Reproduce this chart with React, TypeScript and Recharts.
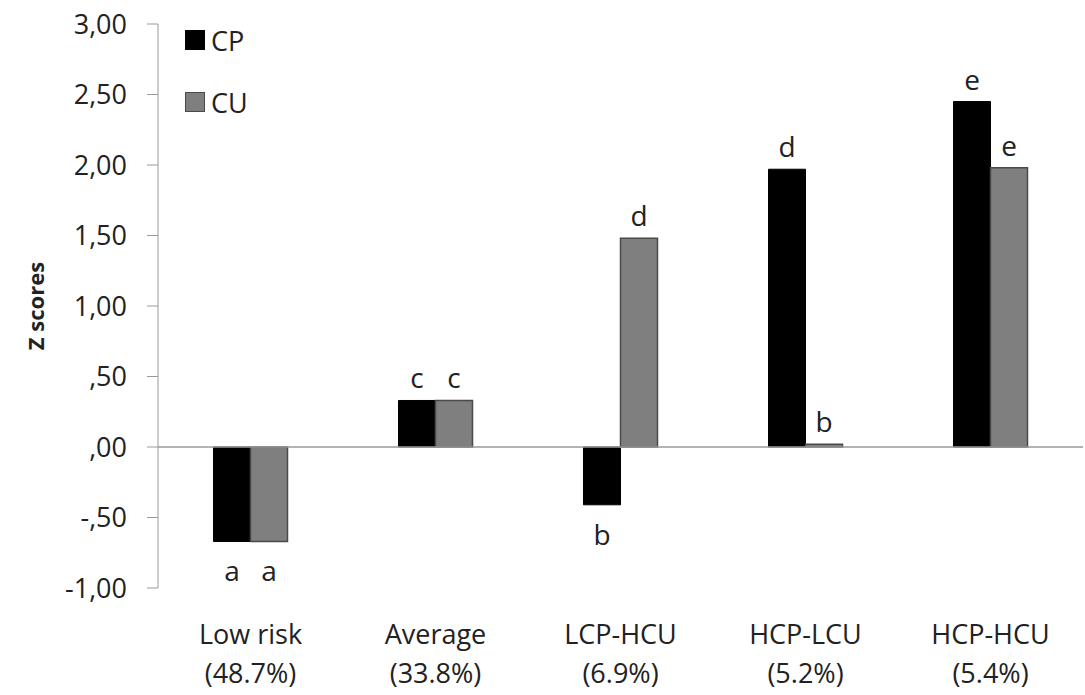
import React from 'react';
import { BarChart, Bar, XAxis, YAxis, ReferenceLine, LabelList } from 'recharts';

const categories = ['Low risk', 'Average', 'LCP-HCU', 'HCP-LCU', 'HCP-HCU'];
const shares = ['(48.7%)', '(33.8%)', '(6.9%)', '(5.2%)', '(5.4%)'];
const cpValues = [-0.67, 0.33, -0.41, 1.97, 2.45];
const cuValues = [-0.67, 0.33, 1.48, 0.02, 1.98];
const cpLetters = ['a', 'c', 'b', 'd', 'e'];
const cuLetters = ['a', 'c', 'd', 'b', 'e'];
const yTicks = [-1, -0.5, 0, 0.5, 1, 1.5, 2, 2.5, 3];
const yTickLabels = ['-1,00', '-,50', ',00', ',50', '1,00', '1,50', '2,00', '2,50', '3,00'];

const FONT = '"Open Sans", sans-serif';

const data = categories.map((name, i) => ({
  name,
  share: shares[i],
  CP: cpValues[i],
  CU: cuValues[i],
  cpLetter: cpLetters[i],
  cuLetter: cuLetters[i],
}));

// letter above positive bars, below negative ones
const letterLabel = (values: number[]) => (props: any) => {
  const { x, y, width, height, value, index } = props;
  const top = Math.min(y, y + height);
  const bottom = Math.max(y, y + height);
  const neg = values[index] < 0;
  return (
    <text
      x={x + width / 2}
      y={neg ? bottom + 40 : top - 12}
      textAnchor="middle"
      fontSize={28}
      fontFamily={FONT}
      fill="#222"
    >
      {value}
    </text>
  );
};

const CategoryTick = (props: any) => {
  const { x, y, payload, index } = props;
  return (
    <text x={x} textAnchor="middle" fontSize={27} fontFamily={FONT} fill="#222">
      <tspan x={x} y={y + 48}>{payload.value}</tspan>
      <tspan x={x} y={y + 87}>{shares[index]}</tspan>
    </text>
  );
};

const legendItems = [
  { label: 'CP', fill: '#000', stroke: '#000' },
  { label: 'CU', fill: '#7f7f7f', stroke: '#4a4a4a' },
];

export default function App() {
  return (
    <div style={{ position: 'absolute', left: 0, top: 0, width: 1085, height: 695, background: '#fff' }}>
      <BarChart
        width={1085}
        height={695}
        data={data}
        margin={{ top: 24, right: 2, left: 0, bottom: 7 }}
        barCategoryGap="30%"
        barGap={0}
      >
        <XAxis
          dataKey="name"
          axisLine={false}
          tickLine={false}
          height={100}
          tick={<CategoryTick />}
          interval={0}
        />
        <YAxis
          domain={[-1, 3]}
          ticks={yTicks}
          tickFormatter={(v: number) => yTickLabels[yTicks.indexOf(v)]}
          width={158}
          stroke="#9a9a9a"
          tickSize={11}
          tickMargin={20}
          tick={{ fontSize: 27, fontFamily: FONT, fill: '#222' }}
          interval={0}
          label={{
            content: () => (
              <text
                x={44}
                y={306}
                transform="rotate(-90 44 306)"
                textAnchor="middle"
                fontSize={22}
                fontWeight="bold"
                fontFamily={FONT}
                fill="#222"
              >
                Z scores
              </text>
            ),
          }}
        />
        <ReferenceLine y={0} stroke="#9a9a9a" strokeWidth={1.5} />
        <Bar dataKey="CP" fill="#000" stroke="#000" isAnimationActive={false}>
          <LabelList dataKey="cpLetter" content={letterLabel(cpValues)} />
        </Bar>
        <Bar dataKey="CU" fill="#7f7f7f" stroke="#4a4a4a" strokeWidth={1.5} isAnimationActive={false}>
          <LabelList dataKey="cuLetter" content={letterLabel(cuValues)} />
        </Bar>
      </BarChart>
      <div style={{ position: 'absolute', left: 185, top: 20, fontFamily: FONT, fontSize: 27, color: '#222' }}>
        {legendItems.map((it, i) => (
          <div key={it.label} style={{ display: 'flex', alignItems: 'center', height: 40, marginBottom: i === 0 ? 22 : 0 }}>
            <span style={{ width: 18, height: 18, background: it.fill, border: `1.5px solid ${it.stroke}`, marginRight: 6 }} />
            <span>{it.label}</span>
          </div>
        ))}
      </div>
    </div>
  );
}
